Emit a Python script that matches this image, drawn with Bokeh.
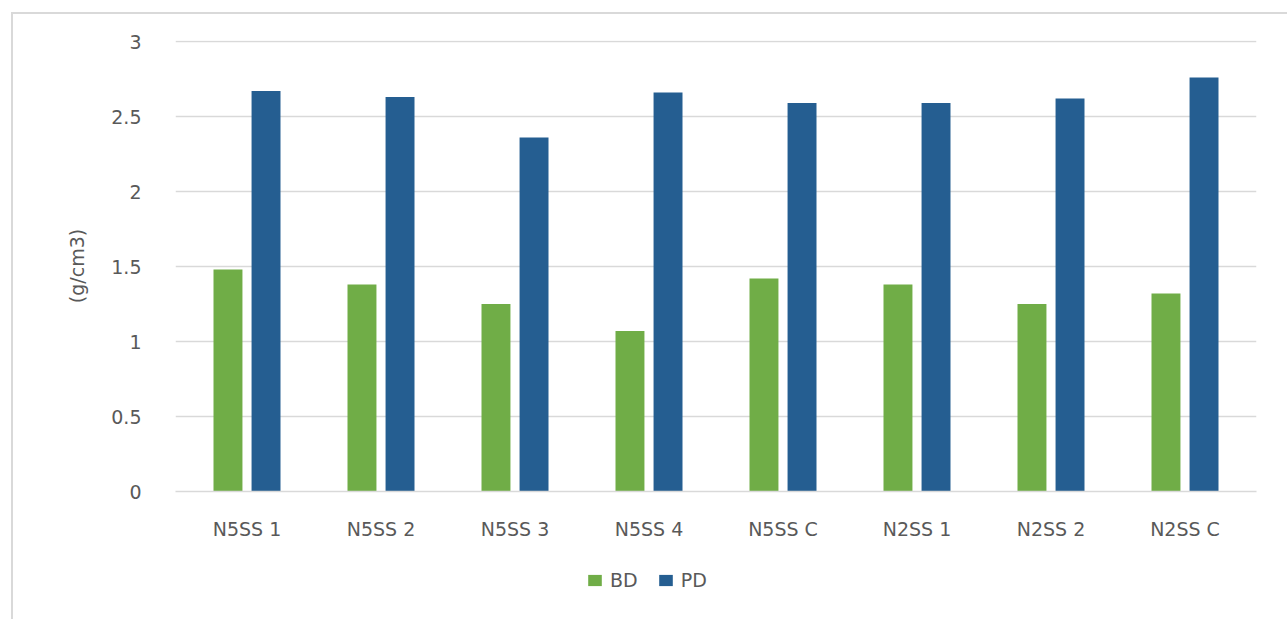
from bokeh.plotting import figure
from bokeh.layouts import column
from bokeh.models import ColumnDataSource, FactorRange, Range1d, Legend, LegendItem
from bokeh.transform import dodge
from bokeh.embed import file_html
from bokeh.resources import INLINE

# Sample names and measured densities (g/cm3)
samples = ["N5SS 1", "N5SS 2", "N5SS 3", "N5SS 4", "N5SS C", "N2SS 1", "N2SS 2", "N2SS C"]
bd = [1.48, 1.38, 1.25, 1.07, 1.42, 1.38, 1.25, 1.32]
pd_vals = [2.67, 2.63, 2.36, 2.66, 2.59, 2.59, 2.62, 2.76]
series_names = ["BD", "PD"]
series_cols = ["bd", "pd"]
y_ticks = [0, 0.5, 1, 1.5, 2, 2.5, 3]
y_tick_labels = {0: "0", 0.5: "0.5", 1: "1", 1.5: "1.5", 2: "2", 2.5: "2.5", 3: "3"}

GREEN = "#70AD47"
BLUE = "#255E91"
TEXT = "#595959"
GRID = "#d9d9d9"
FONT = "DejaVu Sans"

source = ColumnDataSource(data=dict(sample=samples, bd=bd, pd=pd_vals))

p = figure(
    x_range=FactorRange(*samples, range_padding=0.0084),
    y_range=Range1d(0, 3.0067),
    frame_width=1081, frame_height=451,
    min_border_left=162, min_border_right=31,
    min_border_top=26, min_border_bottom=63,
    output_backend="svg", toolbar_location=None,
)

p.vbar(x=dodge("sample", -0.142, range=p.x_range), top="bd", width=0.216,
       source=source, fill_color=GREEN, line_color=None)
p.vbar(x=dodge("sample", 0.142, range=p.x_range), top="pd", width=0.216,
       source=source, fill_color=BLUE, line_color=None)

p.outline_line_color = None
p.background_fill_color = "white"
p.border_fill_color = "white"

# grid
p.xgrid.grid_line_color = None
p.ygrid.grid_line_color = GRID
p.ygrid.grid_line_width = 1.3
p.yaxis.ticker = y_ticks
p.yaxis.major_label_overrides = y_tick_labels

# axes
p.yaxis.axis_line_color = None
p.yaxis.major_tick_line_color = None
p.yaxis.minor_tick_line_color = None
p.yaxis.major_label_standoff = 28
p.yaxis.axis_label = "(g/cm3)"
p.yaxis.axis_label_standoff = 20
p.yaxis.axis_label_text_font_style = "normal"

p.xaxis.axis_line_color = GRID
p.xaxis.axis_line_width = 1.3
p.xaxis.major_tick_line_color = None
p.xaxis.minor_tick_line_color = None
p.xaxis.major_label_standoff = 20

for ax in (p.xaxis, p.yaxis):
    ax.major_label_text_font = FONT
    ax.major_label_text_font_size = "19px"
    ax.major_label_text_color = TEXT
    ax.axis_label_text_font = FONT
    ax.axis_label_text_font_size = "19px"
    ax.axis_label_text_color = TEXT

# Legend strip under the chart (its bar renderers stay hidden; only the key shows)
lg = figure(
    width=1274, height=68,
    x_range=FactorRange(*samples), y_range=Range1d(0, 1),
    min_border=0, output_backend="svg", toolbar_location=None,
)
lg.outline_line_color = None
lg.xaxis.visible = False
lg.yaxis.visible = False
lg.grid.visible = False
lg.border_fill_color = "white"

items = []
for name, col, color in zip(series_names, series_cols, [GREEN, BLUE]):
    r = lg.vbar(x="sample", top=col, width=0.2, source=source,
                fill_color=color, line_color=None, visible=False)
    items.append(LegendItem(label=name, renderers=[r]))

legend = Legend(
    items=items,
    orientation="horizontal",
    location=(411, 31),
    glyph_width=17, glyph_height=14,
    label_standoff=7, spacing=19,
    padding=0, margin=0,
    border_line_color=None, background_fill_alpha=0,
    inactive_fill_alpha=0,
    label_text_font=FONT, label_text_font_size="19px", label_text_color=TEXT,
)
lg.add_layout(legend, "center")

layout = column(p, lg, spacing=0, margin=(12, 0, 0, 11))
layout.styles = {"border-left": "2px solid #d9d9d9", "border-top": "2px solid #d9d9d9",
                 "background-color": "white"}

open("out.html", "w").write(file_html(layout, INLINE))
